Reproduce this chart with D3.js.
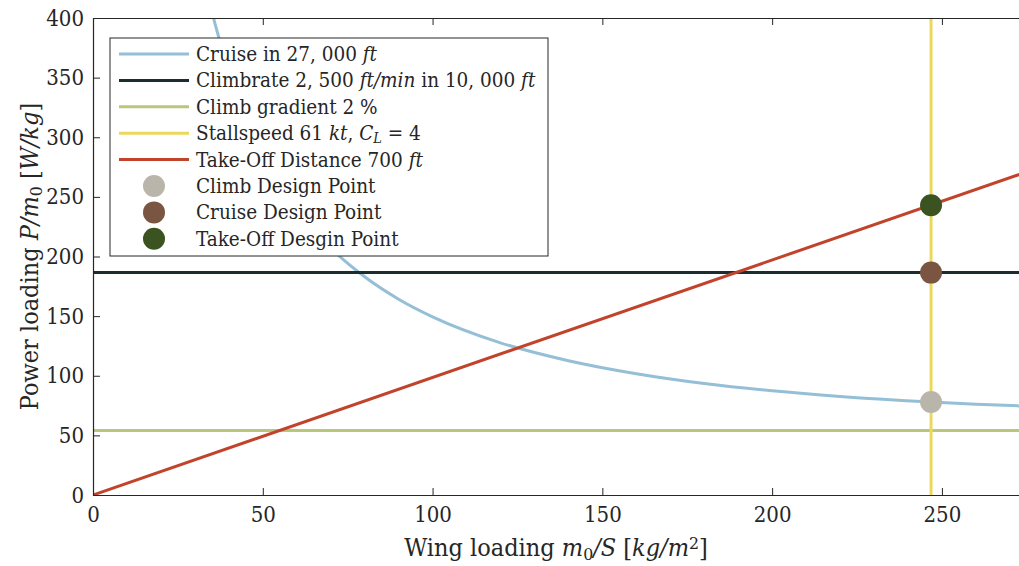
<!DOCTYPE html>
<html>
<head>
<meta charset="utf-8">
<script src="https://cdn.jsdelivr.net/npm/d3@7"></script>
<style>
  body { margin: 0; background: #fff; }
  text { font-family: "DejaVu Serif Condensed", "DejaVu Serif", serif; fill: #262626; }
</style>
</head>
<body>
<svg id="chart" width="1019" height="566"></svg>
<script>
// values
const cruiseX = [34, 36, 40, 45, 50, 60, 70, 80, 90, 100, 120, 140, 160, 180, 200, 220, 246.8, 260, 273];
const cruiseY = [417, 394.5, 355.7, 317, 286.1, 240, 207.2, 183, 164.2, 149.4, 127.6, 112.6, 101.7, 93.5, 87.4, 82.7, 78, 76.2, 74.7];
const climbRate = 186.5;
const climbGradient = 54;
const stallSpeed = 246.8;
const takeOffX = [0, 273];
const takeOffY = [0, 269];
const designNames = ["Climb Design Point", "Cruise Design Point", "Take-Off Desgin Point"];
const designX = [246.8, 246.8, 246.8];
const designY = [78, 186.5, 243];
const xTicks = [0, 50, 100, 150, 200, 250];
const yTicks = [0, 50, 100, 150, 200, 250, 300, 350, 400];

const colors = {
  cruise: "#94bfd7",
  climbRate: "#1d2d2f",
  gradient: "#b8c77a",
  stall: "#ecd95c",
  takeOff: "#c1432b",
  dots: ["#bab5aa", "#7a5541", "#3a5320"]
};

const fontFam = '"DejaVu Serif Condensed", "DejaVu Serif", serif';

const svg = d3.select("#chart");
const margin = { left: 93, top: 18, right: 0, bottom: 71 };
const W = 1019 - margin.left - margin.right;
const H = 566 - margin.top - margin.bottom;

const x = d3.scaleLinear().domain([0, 272.7]).range([0, W]);
const y = d3.scaleLinear().domain([0, 400]).range([H, 0]);

const g = svg.append("g").attr("transform", `translate(${margin.left},${margin.top})`);

g.append("clipPath").attr("id", "clip")
  .append("rect").attr("width", W).attr("height", H);

const plot = g.append("g").attr("clip-path", "url(#clip)");

// axes box with inward ticks
const axisColor = "#262626";
const xAxisBottom = g.append("g").attr("transform", `translate(0,${H})`)
  .call(d3.axisBottom(x).tickValues(xTicks).tickSizeInner(-7).tickSizeOuter(0).tickPadding(11));
const yAxisLeft = g.append("g")
  .call(d3.axisLeft(y).tickValues(yTicks).tickSizeInner(-7).tickSizeOuter(0).tickPadding(9));
const xAxisTop = g.append("g")
  .call(d3.axisTop(x).tickValues(xTicks).tickSizeInner(-7).tickSizeOuter(0).tickFormat(""));
[xAxisBottom, yAxisLeft, xAxisTop].forEach(a => {
  a.selectAll("path").attr("stroke", axisColor).attr("stroke-width", 1.2);
  a.selectAll("line").attr("stroke", axisColor).attr("stroke-width", 1);
  a.selectAll("text").style("font-family", fontFam).style("font-size", "22px").attr("fill", "#262626");
});

const line = d3.line().x(d => x(d[0])).y(d => y(d[1]));

// series
plot.append("path")
  .datum(cruiseX.map((v, i) => [v, cruiseY[i]]))
  .attr("d", line.curve(d3.curveMonotoneX))
  .attr("fill", "none").attr("stroke", colors.cruise).attr("stroke-width", 3);
line.curve(d3.curveLinear);

plot.append("line")
  .attr("x1", x(0)).attr("x2", x(272.7)).attr("y1", y(climbRate)).attr("y2", y(climbRate))
  .attr("stroke", colors.climbRate).attr("stroke-width", 3);

plot.append("line")
  .attr("x1", x(0)).attr("x2", x(272.7)).attr("y1", y(climbGradient)).attr("y2", y(climbGradient))
  .attr("stroke", colors.gradient).attr("stroke-width", 3);

plot.append("line")
  .attr("x1", x(stallSpeed)).attr("x2", x(stallSpeed)).attr("y1", y(0)).attr("y2", y(400))
  .attr("stroke", colors.stall).attr("stroke-width", 3);

plot.append("path")
  .datum(takeOffX.map((v, i) => [v, takeOffY[i]]))
  .attr("d", line)
  .attr("fill", "none").attr("stroke", colors.takeOff).attr("stroke-width", 3);

g.selectAll("circle.design")
  .data(designNames)
  .join("circle")
  .attr("class", "design")
  .attr("cx", (d, i) => x(designX[i]))
  .attr("cy", (d, i) => y(designY[i]))
  .attr("r", 11)
  .attr("fill", (d, i) => colors.dots[i]);

// text with italic math parts: segments [text, italic, sub/sup]
function richText(sel, segs) {
  segs.forEach(s => {
    const t = sel.append("tspan").text(s[0]);
    if (s[1]) t.attr("font-style", "italic");
    if (s[2] === "sub") t.attr("baseline-shift", "-20%").attr("font-size", "0.7em");
    if (s[2] === "sup") t.attr("baseline-shift", "40%").attr("font-size", "0.7em");
  });
}

// legend
const legendItems = [
  { type: "line", color: colors.cruise, segs: [["Cruise in 27, 000 "], ["ft", true]] },
  { type: "line", color: colors.climbRate, segs: [["Climbrate 2, 500 "], ["ft/min", true], [" in 10, 000 "], ["ft", true]] },
  { type: "line", color: colors.gradient, segs: [["Climb gradient 2 %"]] },
  { type: "line", color: colors.stall, segs: [["Stallspeed 61 "], ["kt", true], [", "], ["C", true], ["L", true, "sub"], [" = 4"]] },
  { type: "line", color: colors.takeOff, segs: [["Take-Off Distance 700 "], ["ft", true]] },
  { type: "dot", color: colors.dots[0], segs: [[designNames[0]]] },
  { type: "dot", color: colors.dots[1], segs: [[designNames[1]]] },
  { type: "dot", color: colors.dots[2], segs: [[designNames[2]]] }
];

const legend = svg.append("g").attr("transform", "translate(110,38)");
legend.append("rect").attr("width", 438).attr("height", 218)
  .attr("fill", "#fff").attr("stroke", "#262626").attr("stroke-width", 1);

const rowH = 26.4;
legendItems.forEach((it, i) => {
  const cy = 16 + i * rowH;
  if (it.type === "line") {
    legend.append("line").attr("x1", 9).attr("x2", 79).attr("y1", cy).attr("y2", cy)
      .attr("stroke", it.color).attr("stroke-width", 3);
  } else {
    legend.append("circle").attr("cx", 44).attr("cy", cy).attr("r", 11).attr("fill", it.color);
  }
  const t = legend.append("text").attr("x", 86).attr("y", cy + 7).style("font-size", "20.5px");
  richText(t, it.segs);
});

// axis titles
const xl = svg.append("text").attr("x", margin.left + (W - 20) / 2 + 10).attr("y", 556)
  .attr("text-anchor", "middle").style("font-size", "25px");
richText(xl, [["Wing loading "], ["m", true], ["0", false, "sub"], ["/S", true], [" ["], ["kg/m", true], ["2", false, "sup"], ["]"]]);

const yl = svg.append("text")
  .attr("transform", `translate(38,${margin.top + H / 2}) rotate(-90)`)
  .attr("text-anchor", "middle").style("font-size", "25px");
richText(yl, [["Power loading "], ["P/m", true], ["0", false, "sub"], [" ["], ["W/kg", true], ["]"]]);
</script>
</body>
</html>
